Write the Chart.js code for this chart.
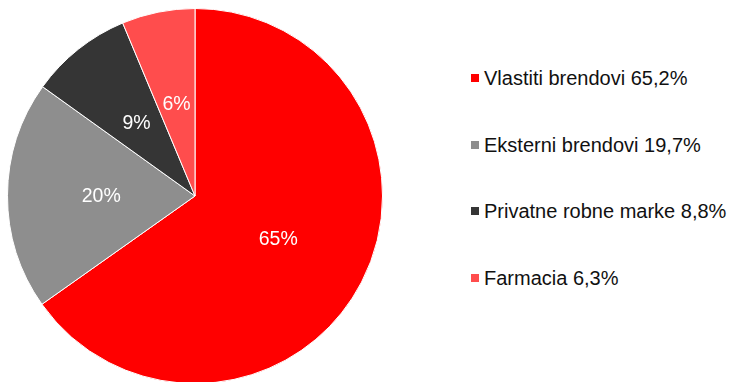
<!DOCTYPE html>
<html>
<head>
<meta charset="utf-8">
<script src="https://cdn.jsdelivr.net/npm/chart.js@4.4.1/dist/chart.umd.min.js"></script>
<style>
  html, body { margin: 0; padding: 0; width: 732px; height: 382px; overflow: hidden; background: #fff; }
  #pieWrap { position: absolute; left: 0; top: 5px; width: 390px; height: 382px; }
  #legend { position: absolute; left: 0; top: 0; }
  .row { position: absolute; left: 471px; height: 20px; line-height: 20px; white-space: nowrap;
         font-family: "Liberation Sans", Arial, sans-serif; font-size: 20px; color: #111; }
  .box { position: absolute; left: 0; top: 6px; width: 8px; height: 8px; }
  .txt { position: absolute; left: 13px; top: 0; }
</style>
</head>
<body>
<div id="pieWrap"><canvas id="pie"></canvas></div>
<div id="legend"></div>
<script>
// Product structure by brand type (share of sales, %)
const categories = ["Vlastiti brendovi", "Eksterni brendovi", "Privatne robne marke", "Farmacia"];
const shares = [65.2, 19.7, 8.8, 6.3];
const colors = ["#FF0000", "#8E8E8E", "#353535", "#FF4D4D"];

// legend rows, vertical centre of each line
const legendRowCenters = [77.5, 144.5, 211, 277.5];

const fmtShare = v => v.toFixed(1).replace(".", ",") + "%";

// slice labels: rounded percentage at the centroid of each slice
const sliceLabels = {
  id: "sliceLabels",
  afterDatasetsDraw(chart) {
    const ctx = chart.ctx;
    const meta = chart.getDatasetMeta(0);
    const data = chart.data.datasets[0].data;
    ctx.save();
    ctx.fillStyle = "#FFFFFF";
    ctx.font = '19.5px "Liberation Sans", Arial, sans-serif';
    ctx.textAlign = "center";
    ctx.textBaseline = "middle";
    meta.data.forEach((arc, i) => {
      const p = arc.tooltipPosition();
      ctx.fillText(Math.round(data[i]) + "%", p.x, p.y + 1);
    });
    ctx.restore();
  }
};

new Chart(document.getElementById("pie"), {
  type: "pie",
  data: {
    labels: categories,
    datasets: [{
      data: shares,
      backgroundColor: colors,
      borderColor: "#FFFFFF",
      borderWidth: 1
    }]
  },
  options: {
    responsive: true,
    maintainAspectRatio: false,
    animation: false,
    radius: 187.5,
    layout: { padding: 0 },
    plugins: {
      legend: { display: false },
      tooltip: { enabled: false }
    }
  },
  plugins: [sliceLabels]
});

// legend built from the same arrays
const legend = document.getElementById("legend");
categories.forEach((name, i) => {
  const row = document.createElement("div");
  row.className = "row";
  row.style.top = (legendRowCenters[i] - 10) + "px";
  const box = document.createElement("span");
  box.className = "box";
  box.style.background = colors[i];
  const txt = document.createElement("span");
  txt.className = "txt";
  txt.textContent = name + " " + fmtShare(shares[i]);
  row.appendChild(box);
  row.appendChild(txt);
  legend.appendChild(row);
});
</script>
</body>
</html>
